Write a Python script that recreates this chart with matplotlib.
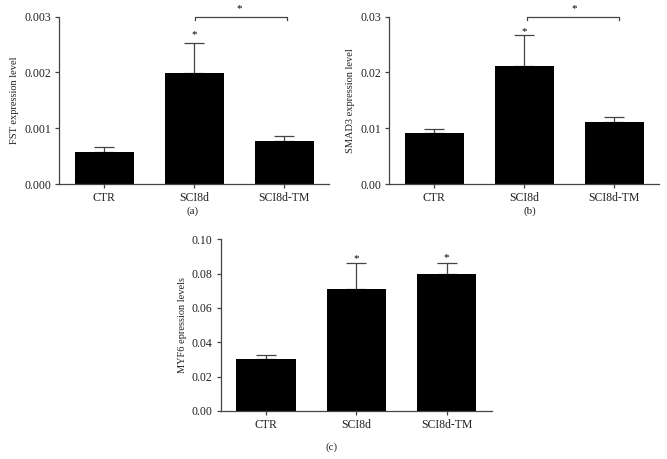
import numpy as np
import matplotlib
matplotlib.use('Agg')
import matplotlib.pyplot as plt

plt.rcParams['font.family'] = ['Liberation Serif', 'DejaVu Serif']

groups = ['CTR', 'SCI8d', 'SCI8d-TM']

fst_mean = [0.000568, 0.001985, 0.000766]
fst_err = [0.000095, 0.000538, 0.000089]

smad3_mean = [0.00909, 0.02122, 0.01106]
smad3_err = [0.00072, 0.00550, 0.00101]

myf6_mean = [0.0304, 0.0709, 0.0798]
myf6_err = [0.0023, 0.0151, 0.0066]

fig = plt.figure(figsize=(6.67, 4.59), dpi=100)

axc = '#444444'
txt = '#222222'


def panel(rect, means, errs, ylim, yticks, fmt, ylabel, tag, tagx, tagy):
    ax = fig.add_axes(rect)
    x = np.arange(len(groups))
    ax.bar(x, means, width=0.66, color='black', zorder=2)
    ax.errorbar(x, means, yerr=[np.zeros(len(errs)), errs], fmt='none',
                ecolor=axc, elinewidth=0.9, capsize=7, capthick=0.9, zorder=1)
    ax.set_xlim(-0.5, 2.5)
    ax.set_ylim(*ylim)
    ax.set_yticks(yticks)
    ax.set_yticklabels([fmt % v for v in yticks])
    ax.set_xticks(x)
    ax.set_xticklabels(groups)
    for s in ['top', 'right']:
        ax.spines[s].set_visible(False)
    for s in ['left', 'bottom']:
        ax.spines[s].set_color(axc)
        ax.spines[s].set_linewidth(0.9)
    ax.tick_params(direction='out', length=3, width=0.9, color=axc,
                   labelsize=8.5, pad=3, labelcolor=txt)
    ax.set_ylabel(ylabel, fontsize=7.5, color=txt, labelpad=3.5)
    fig.text(tagx, tagy, tag, fontsize=8, ha='center', va='center', color=txt)
    return ax


# (a)
ax = panel([0.0889, 0.5991, 0.4048, 0.3645], fst_mean, fst_err, (0, 0.003),
           [0, 0.001, 0.002, 0.003], '%.3f', 'FST expression level', '(a)',
           193 / 667, 1 - 211 / 459)
ax.text(1, 0.00268, '*', ha='center', va='center', fontsize=8)
ax.plot([1.01, 1.01, 2.03, 2.03], [0.00294, 0.00299, 0.00299, 0.00294],
        color=axc, lw=0.9, clip_on=False)
ax.text(1.5, 0.00315, '*', ha='center', va='center', fontsize=8)

# (b)
ax = panel([0.5837, 0.5991, 0.4048, 0.3645], smad3_mean, smad3_err, (0, 0.03),
           [0, 0.01, 0.02, 0.03], '%.2f', 'SMAD3 expression level', '(b)',
           530 / 667, 1 - 211 / 459)
ax.text(1, 0.0274, '*', ha='center', va='center', fontsize=8)
ax.plot([1.03, 1.03, 2.05, 2.05], [0.0294, 0.0299, 0.0299, 0.0294],
        color=axc, lw=0.9, clip_on=False)
ax.text(1.55, 0.0315, '*', ha='center', va='center', fontsize=8)

# (c)
ax = panel([0.3313, 0.1046, 0.4058, 0.3741], myf6_mean, myf6_err, (0, 0.10),
           [0, 0.02, 0.04, 0.06, 0.08, 0.10], '%.2f', 'MYF6 epression levels', '(c)',
           332 / 667, 1 - 447 / 459)
ax.text(1, 0.0885, '*', ha='center', va='center', fontsize=8)
ax.text(2, 0.0895, '*', ha='center', va='center', fontsize=8)

fig.savefig('out.png', dpi=100)
